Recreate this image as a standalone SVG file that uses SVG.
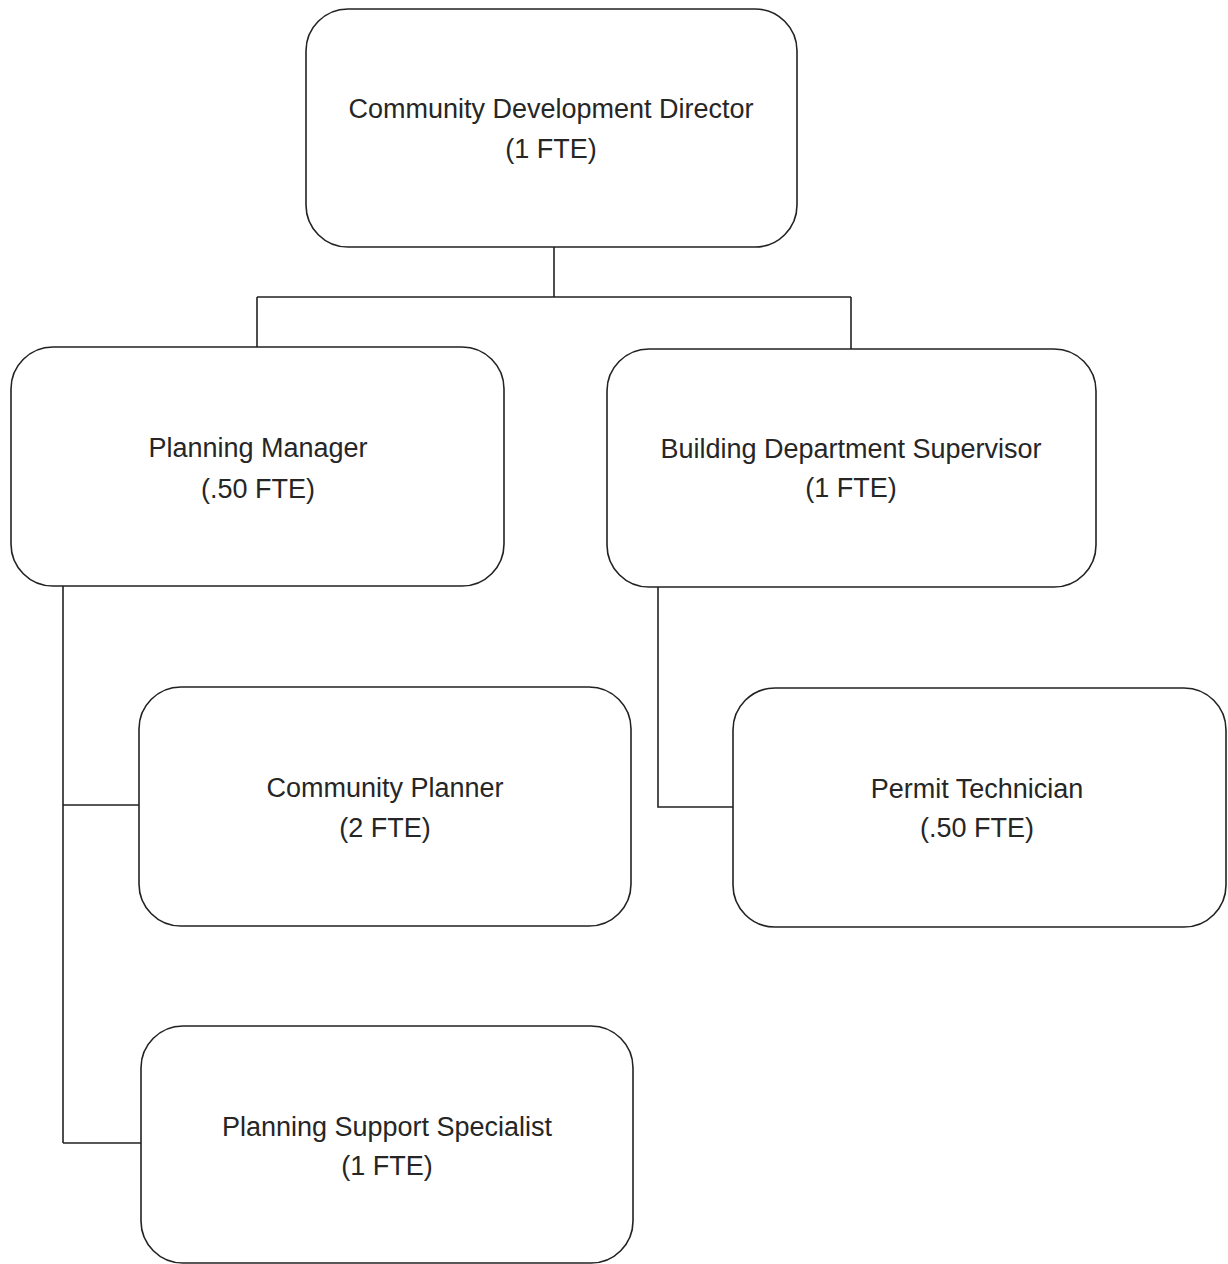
<svg xmlns="http://www.w3.org/2000/svg" width="1228" height="1264" viewBox="0 0 1228 1264">
<style>
.box{fill:#fff;stroke:#222;stroke-width:1.6}
.lbl{font-family:"Liberation Sans",Arial,sans-serif;font-size:27px;fill:#262626;text-anchor:middle}
.con{fill:none;stroke:#222;stroke-width:1.6}
</style>
<rect width="1228" height="1264" fill="#fff"/>
<g id="connectors">
<path class="con" d="M554 247 V297 M257 297 H851 M257 297 V348 M851 297 V349"/>
<path class="con" d="M63 586 V1143 M63 805 H139 M63 1143 H141"/>
<path class="con" d="M658 587 V807 H733"/>
</g>
<g id="director">
<rect class="box" x="306" y="9" width="491" height="238" rx="42"/>
<text class="lbl" x="551" y="118">Community Development Director</text>
<text class="lbl" x="551" y="158">(1 FTE)</text>
</g>
<g id="planning-manager">
<rect class="box" x="11" y="347" width="493" height="239" rx="42"/>
<text class="lbl" x="258" y="457">Planning Manager</text>
<text class="lbl" x="258" y="498">(.50 FTE)</text>
</g>
<g id="building-supervisor">
<rect class="box" x="607" y="349" width="489" height="238" rx="42"/>
<text class="lbl" x="851" y="458">Building Department Supervisor</text>
<text class="lbl" x="851" y="497">(1 FTE)</text>
</g>
<g id="community-planner">
<rect class="box" x="139" y="687" width="492" height="239" rx="42"/>
<text class="lbl" x="385" y="797">Community Planner</text>
<text class="lbl" x="385" y="837">(2 FTE)</text>
</g>
<g id="permit-technician">
<rect class="box" x="733" y="688" width="493" height="239" rx="42"/>
<text class="lbl" x="977" y="798">Permit Technician</text>
<text class="lbl" x="977" y="837">(.50 FTE)</text>
</g>
<g id="planning-support">
<rect class="box" x="141" y="1026" width="492" height="237" rx="42"/>
<text class="lbl" x="387" y="1136">Planning Support Specialist</text>
<text class="lbl" x="387" y="1175">(1 FTE)</text>
</g>
</svg>
